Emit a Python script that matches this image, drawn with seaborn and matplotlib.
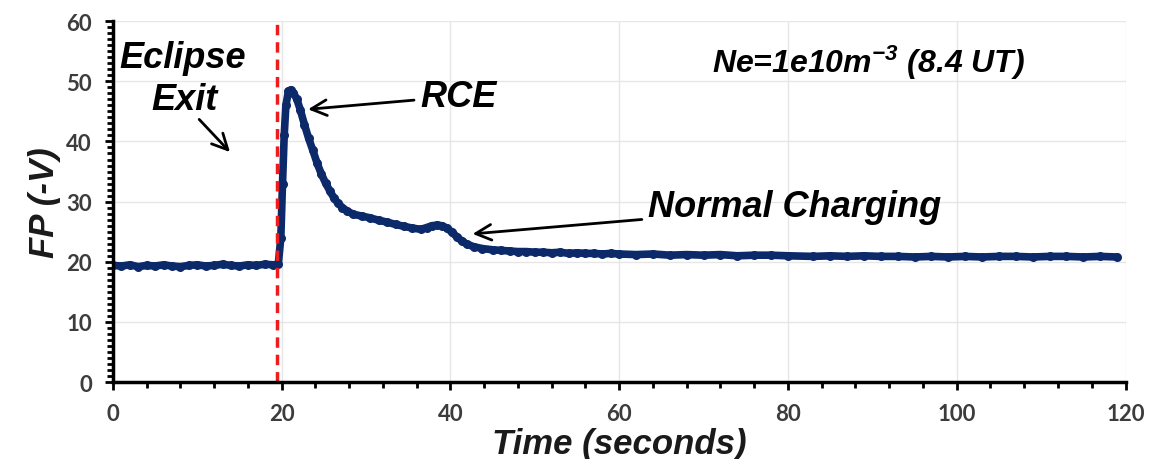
import numpy as np
import pandas as pd
import matplotlib
matplotlib.use('Agg')
import matplotlib.pyplot as plt
from matplotlib.ticker import MultipleLocator
import seaborn as sns

# ----- data -----
time_s = [0, 1, 2, 3, 4, 5, 6, 7, 8, 9, 10, 11, 12, 13, 14, 15, 16, 17, 18, 19, 19.6,
          19.9, 20.1, 20.3, 20.5, 20.8, 21.1, 21.4, 21.8, 22.2, 22.7, 23.2, 23.7, 24.2,
          24.7, 25.2, 25.7, 26.2, 26.7, 27.2, 27.8, 28.5, 29.5, 30.5, 31.5, 32.5, 33.5,
          34.5, 35.5, 36.5, 37.2, 37.8, 38.4, 39.0, 39.6, 40.2, 40.8, 41.4, 42.0, 42.8,
          43.8, 45, 46, 47, 48, 49, 50, 51, 52, 53, 54, 55, 56, 57, 58, 59, 60, 62, 64,
          66, 68, 70, 72, 74, 76, 78, 80, 83, 85, 87, 89, 91, 93, 95, 97, 99, 101, 103,
          105, 107, 109, 111, 113, 115, 117, 119]
fp_volts = [19.4, 19.3, 19.5, 19.2, 19.4, 19.3, 19.5, 19.3, 19.2, 19.4, 19.5, 19.3, 19.4,
            19.6, 19.4, 19.3, 19.5, 19.4, 19.6, 19.5, 19.6,
            24.0, 33.0, 41.0, 46.0, 48.3, 48.6, 48.1, 47.0, 45.3, 42.8, 40.5, 38.5, 36.4,
            34.6, 33.1, 31.8, 30.6, 29.7, 29.0, 28.4, 27.9, 27.6, 27.3, 26.9, 26.6, 26.2,
            25.9, 25.6, 25.4, 25.7, 26.0, 26.1, 26.0, 25.6, 24.9, 24.1, 23.4, 22.9, 22.5,
            22.2, 22.0, 21.9, 21.8, 21.7, 21.7, 21.6, 21.6, 21.5, 21.6, 21.4, 21.5, 21.4,
            21.4, 21.3, 21.4, 21.3, 21.2, 21.3, 21.1, 21.2, 21.1, 21.2, 21.0, 21.1, 21.1,
            21.0, 20.9, 21.0, 20.9, 21.0, 20.9, 20.9, 20.8, 20.9, 20.8, 20.9, 20.8, 20.9,
            20.9, 20.8, 20.9, 20.9, 20.8, 20.9, 20.8]
eclipse_exit_s = 19.4

df = pd.DataFrame({'Time': time_s, 'FP': fp_volts})

sns.set_style('whitegrid')
plt.rcParams['font.family'] = ['Liberation Sans', 'DejaVu Sans']
plt.rcParams['mathtext.fontset'] = 'custom'
plt.rcParams['mathtext.rm'] = 'Liberation Sans:italic:bold'
plt.rcParams['mathtext.default'] = 'rm'

fig = plt.figure(figsize=(11.52, 4.6), dpi=100)
ax = fig.add_axes([0.098, 0.167, 0.879, 0.785])

sns.lineplot(data=df, x='Time', y='FP', ax=ax, color='#0c2a6a', linewidth=5.5,
             marker='o', markersize=6.5, markeredgewidth=0, solid_capstyle='round')

ax.axvline(eclipse_exit_s, color='#ee1c1c', linestyle=(0, (3, 2)), linewidth=2.5)

ax.set_xlim(0, 120)
ax.set_ylim(0, 60)
ax.xaxis.set_major_locator(MultipleLocator(20))
ax.xaxis.set_minor_locator(MultipleLocator(4))
ax.yaxis.set_major_locator(MultipleLocator(10))
ax.yaxis.set_minor_locator(MultipleLocator(1))
ax.grid(True, which='major', color='#e6e6e6', linewidth=1)
ax.grid(False, which='minor')

for side in ['top', 'right']:
  ax.spines[side].set_visible(False)
for side in ['left', 'bottom']:
  ax.spines[side].set_color('black')
  ax.spines[side].set_linewidth(2.5)

ax.tick_params(axis='both', which='major', direction='out', length=6, width=2,
               color='black', labelsize=16, labelcolor='#3c3c3c', pad=9)
ax.tick_params(axis='both', which='minor', direction='out', length=4, width=2,
               color='black')
ax.tick_params(axis='y', which='both', left=True)
ax.tick_params(axis='x', which='both', bottom=True)
for lbl in ax.get_xticklabels() + ax.get_yticklabels():
  lbl.set_fontweight('bold')
  lbl.set_family(['Lato', 'DejaVu Sans'])

ax.set_xlabel('Time (seconds)', fontsize=25, fontweight='bold', fontstyle='italic',
              color='#1a1a1a', labelpad=2)
ax.set_ylabel('FP (-V)', fontsize=25, fontweight='bold', fontstyle='italic',
              color='#1a1a1a', labelpad=4)

txt = dict(fontsize=26, fontweight='bold', fontstyle='italic', color='black')
arr = dict(arrowstyle='->', color='black', lw=2, mutation_scale=28)

ax.text(8.3, 54.0, 'Eclipse', ha='center', va='center', **txt)
ax.text(8.5, 47.0, 'Exit', ha='center', va='center', **txt)
ax.annotate('', xy=(14.1, 37.9), xytext=(10.0, 44.0), arrowprops=arr)

ax.annotate('RCE', xy=(22.8, 45.3), xytext=(36.4, 47.5), ha='left', va='center',
            arrowprops=arr, **txt)
ax.annotate('Normal Charging', xy=(42.3, 24.6), xytext=(63.4, 29.2), ha='left',
            va='center', arrowprops=arr, **txt)

ax.text(89.6, 53.2, r'Ne=1e10m$^{-3}$ (8.4 UT)', ha='center', va='center',
        fontsize=23, fontweight='bold', fontstyle='italic', color='black')

plt.savefig('out.png', dpi=100)
plt.close(fig)
